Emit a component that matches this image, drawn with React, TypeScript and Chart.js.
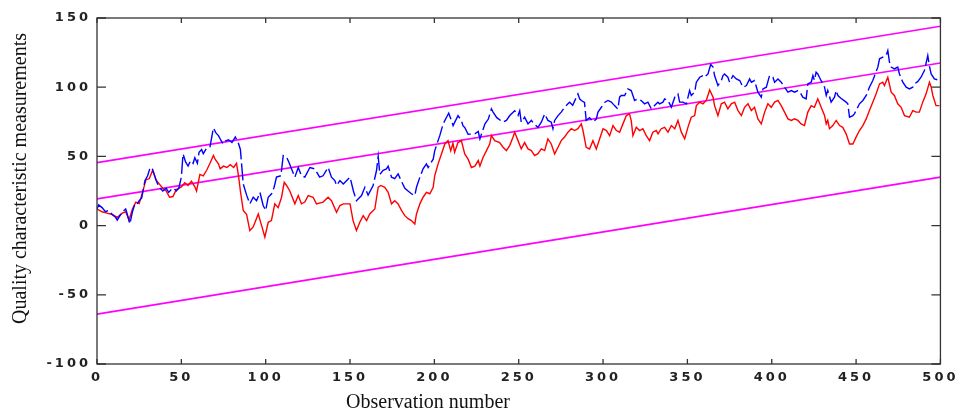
import { useEffect, useRef } from 'react';
import { Chart, registerables } from 'chart.js';

Chart.register(...registerables);

const xTicks = [0, 50, 100, 150, 200, 250, 300, 350, 400, 450, 500];
const yTicks = [-100, -50, 0, 50, 100, 150];
const xTitle = 'Observation number';
const yTitle = 'Quality characteristic measurements';

const limitObs = [0, 500];
const uclVal = [45.5, 144];
const clVal = [19.3, 117.5];
const lclVal = [-64, 35];

const redObs = [0, 3, 6, 9, 12, 15, 17, 19, 21, 23, 25, 27, 29, 31, 33, 35, 37, 39, 41, 43, 45, 47, 50, 52, 54, 56, 58, 59, 61, 63, 65, 67, 69, 70, 72, 73, 75, 77, 79, 81, 82.7, 84, 85, 86.7, 88.7, 90.6, 92.6, 95.6, 97.6, 99.5, 101.5, 103.4, 105.4, 107.4, 109.4, 111, 112.4, 114.3, 117.3, 119.3, 121.2, 123.2, 125.2, 128.1, 130.1, 134, 137, 139, 142, 144, 146, 150, 151.8, 153.8, 155.8, 157.8, 159.8, 161.7, 164.7, 166.7, 168.3, 170.6, 172.6, 174.6, 176.5, 178.5, 180.5, 182.5, 184.4, 186.4, 188.4, 189.4, 191.4, 193.3, 195.3, 197.3, 199.3, 200.2, 202.2, 204.2, 206.2, 208.1, 209.7, 211, 212, 214, 216, 218, 220, 222, 224, 226, 227, 228.9, 230.9, 232.8, 233.8, 235.8, 238.7, 240.7, 242.7, 244.7, 246.6, 247.6, 249.6, 251.5, 253.5, 255.5, 257.5, 259.4, 261.4, 263.4, 265.4, 267.3, 269.3, 271.3, 273.3, 275.2, 277.2, 279.2, 281.2, 283.1, 285.1, 287.1, 288.1, 290, 292, 294, 296, 298, 300, 302, 303.9, 305.9, 307.9, 309.8, 311.8, 313.8, 315.7, 316.7, 317.7, 319.7, 321.7, 323.6, 325.6, 327.6, 329.5, 331.5, 332.6, 334.5, 336.5, 338.5, 340.5, 342.5, 344.4, 346.4, 348.4, 350.3, 352.3, 354.3, 355.3, 357.3, 359.2, 361.2, 363.2, 365.2, 366.1, 368.1, 370.1, 372, 374, 376, 378, 380, 382, 383.9, 385.9, 387.9, 389.8, 391.8, 393.8, 395.8, 397.7, 399.7, 401.7, 403.7, 405.6, 407.6, 409.6, 411.6, 413.5, 415.5, 417.4, 419.4, 421.4, 423.4, 425.3, 427.3, 429.3, 431.3, 432.3, 433.2, 434.2, 436.2, 438.2, 440.2, 442.1, 444.1, 446.1, 448.1, 450, 452, 454, 456, 457.9, 459.9, 461.9, 463.9, 465.8, 466.8, 468.8, 470.8, 472.7, 474.7, 476.7, 478.7, 481.6, 483.6, 485.6, 487.5, 489.5, 491.5, 493.5, 494.5, 495.5, 497.4, 499.4];
const redVal = [12, 10, 9, 8, 6, 9, 10, 4, 12, 17, 16, 24, 33, 34, 40, 33, 30, 27, 25, 20.5, 21, 26, 28, 31, 29, 32, 28, 25, 37, 36, 40, 45, 50.6, 48, 44.6, 41, 43, 42, 44, 42, 45, 35, 25, 11, 8, -3.6, -1, 8.4, 0, -8.4, 2.4, 3.6, 15.7, 13, 20.5, 31.3, 29, 25, 15.7, 21.7, 15.7, 17, 21.7, 20.5, 15.7, 17, 20.5, 18, 9.6, 14.5, 15.7, 15.7, 3.6, -3.6, 2.4, 7.2, 3.6, 8.4, 12, 27.7, 29, 27.7, 24, 15.7, 18, 15.7, 11, 7.2, 5, 3.6, 1.2, 8.4, 15.7, 20.5, 24, 23, 27.7, 36, 44.6, 51.8, 59, 61.4, 54.2, 59.5, 53, 60, 61.4, 51.8, 48, 42, 43, 47, 43, 49.4, 54.2, 59, 65, 61.4, 60, 56.6, 54.2, 58, 63.9, 67.5, 61.4, 55.4, 60, 55.4, 54.2, 50.6, 52, 55.4, 54.2, 62.7, 59, 51.8, 56.6, 61.4, 64, 67.5, 70, 68.7, 70, 73.5, 68.7, 56.6, 55.4, 61.4, 55.4, 62.7, 70, 68.7, 65, 72.3, 68.7, 67.5, 73.5, 79.5, 80.7, 75.9, 65, 71, 68.7, 70, 65, 61.4, 67.5, 68.7, 66.3, 70, 71, 67.5, 72.3, 70, 76, 67.5, 62.7, 71, 78.3, 79.5, 86.7, 89.2, 88, 90.4, 98, 92.8, 86.7, 79.5, 88, 89.2, 84.3, 88, 89.2, 83.1, 79.5, 85.5, 88, 83.1, 85.5, 77.1, 73.5, 82, 88, 85.5, 89.2, 90.4, 86.7, 82, 77.1, 76, 77.1, 76, 73.5, 72.3, 82, 86.7, 85.5, 91.6, 85.5, 79.5, 73.5, 76, 70, 72.3, 76, 72.3, 71, 66.3, 59, 59, 63.9, 68.7, 72.3, 77.1, 83.1, 89.2, 95.2, 102.4, 103.6, 101.2, 107.2, 96.4, 94, 88, 85.5, 79.5, 78.3, 83.1, 82, 82, 89.2, 95.2, 103.6, 100.2, 94, 86.7, 86.7];

const blueObs = [0, 1, 3, 5, 7, 9, 11, 12, 14, 16, 17, 18, 19.5, 21, 22.5, 23.5, 25, 26.5, 27.5, 28.4, 30, 31.4, 32.5, 33.4, 35, 36.3, 37.5, 39, 41, 42.5, 44, 45.5, 47, 48.5, 50, 51, 52.5, 54, 55.5, 57, 58, 59.5, 60.5, 62, 63, 65, 67, 69, 70.5, 72, 73.5, 74.8, 76, 78, 80, 82, 83.7, 85, 86.7, 88.7, 90.6, 92.6, 94.6, 96.6, 98.5, 100, 101.5, 103.5, 105, 106.4, 109, 110.4, 112.4, 113.7, 115.3, 117.3, 119.3, 121.2, 123.2, 126.2, 129.1, 132, 134, 137, 139, 141, 142, 144, 146, 150, 152, 153.8, 156.8, 158.8, 160.7, 163.7, 165.7, 166.7, 167.7, 169.6, 171.6, 172.6, 174.6, 176.5, 178.5, 180.5, 182.5, 184.4, 186.4, 188.4, 189.4, 191.4, 193.3, 195.3, 196.3, 199.3, 200.2, 202.2, 203.2, 205.2, 207.2, 208.5, 210.1, 211.1, 214, 216, 217, 218, 220, 224, 226, 227, 230, 232, 233.8, 234.8, 237, 240.7, 242.7, 244.7, 247.6, 249.6, 250.6, 251.5, 253.5, 255.5, 257.5, 259.5, 261.4, 263.4, 265.4, 267.3, 269.3, 270.3, 271.3, 273.3, 275.2, 277.2, 279.2, 280.2, 282, 285.1, 286.1, 287.1, 289, 290, 292, 294, 296, 297, 299, 300.9, 302.9, 304.9, 306.8, 308.8, 309.8, 310.8, 312.8, 314.7, 316.7, 318.7, 320.6, 322.6, 324.6, 326.6, 328.6, 330.5, 332.5, 333.5, 335.5, 336.5, 338.5, 340.5, 342.5, 344.4, 345.4, 347.4, 349.4, 351.3, 352.3, 354.3, 355.3, 357.3, 359.2, 360.2, 362.2, 363.8, 365.2, 366.1, 368.1, 370.1, 371.1, 372, 374, 375, 377, 379, 381, 383, 385, 386.9, 387.9, 389.8, 391.8, 393.8, 394.8, 396.8, 398.7, 400.7, 401.7, 403.7, 405.6, 407.6, 409.6, 411.6, 413.5, 415.5, 417.4, 418.4, 420.4, 421.4, 423.4, 424.4, 425.3, 426.3, 427.3, 428.3, 431.3, 432.3, 433.2, 435.2, 437.2, 438.2, 439.2, 441, 444.1, 445.1, 446.1, 448.1, 449, 452, 454, 456, 457.9, 459.9, 462.9, 463.9, 465.8, 467.8, 468.8, 469.8, 470.8, 472.7, 474.7, 475.7, 477.7, 479.7, 481.6, 483.6, 484.6, 486.5, 488.5, 490.5, 492.5, 493.5, 494.5, 496.4, 499.4];
const blueVal = [12, 15, 13, 10, 11, 8, 6, 4, 8, 11, 12, 8, 1.2, 10, 15.7, 15, 18, 20, 26.5, 32.5, 36, 41.5, 42, 39, 33, 29, 27, 25, 27, 24, 26, 27, 25, 27, 35, 51.8, 46, 43, 47, 45, 49, 45, 53, 55, 52, 56, 57, 70.6, 67, 65, 61.5, 59, 61, 62, 60, 64, 60, 55, 30, 22, 15.7, 20.5, 18, 24, 14.5, 11, 20.5, 23, 27.7, 35, 36, 50.6, 49.4, 46, 41, 35, 42, 36, 35, 42, 41, 35, 36, 42, 35, 32.5, 29, 32.5, 30, 35, 25, 18, 21.7, 27.7, 22, 29, 39.8, 50, 37, 40, 41, 43, 35, 34, 37.4, 32, 27, 25, 23, 21.7, 27.7, 35, 41, 44.6, 42, 48, 54, 61.4, 65, 73.5, 78.3, 81.2, 76, 72.3, 79.5, 76, 72, 71, 66, 66.3, 68, 62.7, 73.5, 77, 84.3, 82, 78, 74.7, 76, 79.5, 83, 79.5, 83, 74.7, 78.3, 73.5, 76, 73, 71, 74.7, 80.7, 76, 74.7, 70, 76, 79.5, 82, 85.5, 88, 89.2, 87, 95.2, 91.6, 90.4, 89, 76, 78, 75, 77, 82, 85.5, 89, 90.4, 89.2, 86.7, 84.3, 92.8, 94, 94, 98.8, 97.6, 90.4, 91.6, 90.4, 88, 89.2, 84.3, 86.7, 89.2, 88, 89.2, 91.6, 90.4, 85.5, 92.8, 95.2, 89.2, 89.2, 88, 97.6, 94, 96.4, 103.6, 107.2, 108.4, 107.2, 109.6, 116.4, 114.5, 108.4, 101.2, 104.8, 108.4, 109.6, 107.2, 103.6, 108.4, 106, 104.8, 100, 101.2, 106, 103.6, 104.8, 96.4, 92.8, 98.8, 100, 108.4, 107.2, 103.6, 106, 103.6, 100, 96.4, 97.6, 96.4, 97.6, 95, 92.8, 91.6, 102.4, 103.6, 108.4, 105, 110.8, 109.6, 107, 100, 94, 97.6, 89.2, 92.8, 97.6, 94, 92, 89.2, 88, 78.3, 79.5, 80.7, 88, 90.4, 94, 100, 104.8, 114.5, 120.5, 121.7, 122.9, 126.5, 118, 114.5, 113.2, 114.5, 109.6, 103.6, 100, 98.8, 100, 102.4, 104, 107.2, 112, 122.9, 115, 109.6, 106, 105];

const pts = (xs: number[], ys: number[]) => xs.map((x, i) => ({ x, y: ys[i] }));

const framePlugin = {
  id: 'frame',
  beforeDraw(chart: any) {
    chart.ctx.letterSpacing = '3px';
  },
  afterDatasetsDraw(chart: any) {
    const { ctx, chartArea: a, scales } = chart;
    ctx.save();
    ctx.strokeStyle = '#333333';
    ctx.lineWidth = 1.3;
    ctx.strokeRect(a.left, a.top, a.right - a.left, a.bottom - a.top);
    ctx.beginPath();
    scales.x.ticks.forEach((t: any) => {
      const p = scales.x.getPixelForValue(t.value);
      ctx.moveTo(p, a.bottom);
      ctx.lineTo(p, a.bottom - 5);
      ctx.moveTo(p, a.top);
      ctx.lineTo(p, a.top + 5);
    });
    scales.y.ticks.forEach((t: any) => {
      const p = scales.y.getPixelForValue(t.value);
      ctx.moveTo(a.left, p);
      ctx.lineTo(a.left + 9, p);
      ctx.moveTo(a.right, p);
      ctx.lineTo(a.right - 9, p);
    });
    ctx.stroke();
    ctx.restore();
  },
  afterDraw(chart: any) {
    const ctx = chart.ctx;
    ctx.save();
    ctx.letterSpacing = '0px';
    ctx.fillStyle = '#111111';
    ctx.font = '20px "Liberation Serif", "Times New Roman", serif';
    ctx.textAlign = 'center';
    ctx.textBaseline = 'alphabetic';
    ctx.fillText(xTitle, 428, 408);
    ctx.translate(25.5, 178.5);
    ctx.rotate(-Math.PI / 2);
    ctx.fillText(yTitle, 0, 0);
    ctx.restore();
  },
};

export default function App() {
  const ref = useRef<HTMLCanvasElement | null>(null);
  useEffect(() => {
    document.body.style.margin = '0';
    const canvas = ref.current;
    if (!canvas) return;
    const tickFont = { family: '"DejaVu Sans", sans-serif', size: 13, weight: 'bold' };
    const chart = new Chart(canvas, {
      type: 'line',
      data: {
        datasets: [
          { label: 'blue', data: pts(blueObs, blueVal), borderColor: '#0000ff', borderWidth: 1.4, borderDash: [17, 4], pointRadius: 0, tension: 0 },
          { label: 'red', data: pts(redObs, redVal), borderColor: '#ff0000', borderWidth: 1.4, pointRadius: 0, tension: 0 },
          { label: 'UCL', data: pts(limitObs, uclVal), borderColor: '#ff00ff', borderWidth: 1.6, pointRadius: 0 },
          { label: 'CL', data: pts(limitObs, clVal), borderColor: '#ff00ff', borderWidth: 1.6, pointRadius: 0 },
          { label: 'LCL', data: pts(limitObs, lclVal), borderColor: '#ff00ff', borderWidth: 1.6, pointRadius: 0 },
        ],
      },
      options: {
        animation: false,
        responsive: false,
        devicePixelRatio: 1,
        events: [],
        layout: { padding: { top: 18, right: 19, left: 0, bottom: 0 } },
        plugins: { legend: { display: false }, tooltip: { enabled: false }, title: { display: false } },
        scales: {
          x: {
            type: 'linear',
            min: 0,
            max: 500,
            afterBuildTicks: (s: any) => { s.ticks = xTicks.map((v) => ({ value: v })); },
            afterFit: (s: any) => { s.height = 49; },
            grid: { display: false, drawTicks: false },
            border: { display: false },
            ticks: { padding: 6, maxRotation: 0, autoSkip: false, color: '#222222', font: tickFont },
          },
          y: {
            type: 'linear',
            min: -100,
            max: 150,
            afterBuildTicks: (s: any) => { s.ticks = yTicks.map((v) => ({ value: v })); },
            afterFit: (s: any) => { s.width = 97; },
            grid: { display: false, drawTicks: false },
            border: { display: false },
            ticks: { padding: 6, autoSkip: false, color: '#222222', font: tickFont },
          },
        },
      },
      plugins: [framePlugin],
    } as any);
    return () => chart.destroy();
  }, []);
  return (
    <div style={{ width: 960, height: 413 }}>
      <canvas ref={ref} width={960} height={413} style={{ display: 'block', width: 960, height: 413 }} />
    </div>
  );
}
